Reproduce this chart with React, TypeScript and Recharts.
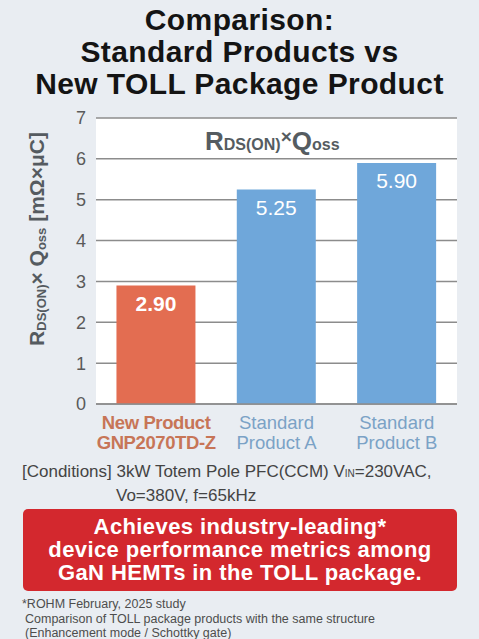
import React from 'react';
import { BarChart, Bar, Cell, XAxis, YAxis, CartesianGrid, LabelList } from 'recharts';

const categories = ['new', 'stdA', 'stdB'];
const labelLines = [
  ['New Product', 'GNP2070TD-Z'],
  ['Standard', 'Product A'],
  ['Standard', 'Product B'],
];
const values = [2.9, 5.25, 5.9];
const yTicks = [0, 1, 2, 3, 4, 5, 6, 7];

const barColors = ['#e36d51', '#6fa7da', '#6fa7da'];
const labelColors = ['#c77557', '#7ba2c6', '#7ba2c6'];
const FONT = '"Liberation Sans", Arial, sans-serif';

const rows = categories.map((c, i) => ({ name: c, value: values[i] }));

const CategoryTick = (props: any) => {
  const { x, y, index } = props;
  const lines = labelLines[index] || [];
  const isNew = index === 0;
  return (
    <text
      x={x}
      y={y}
      textAnchor="middle"
      fill={labelColors[index]}
      fontFamily={isNew ? '"Liberation Sans Narrow", "Liberation Sans", sans-serif' : FONT}
      fontWeight={isNew ? 'bold' : 'normal'}
      fontSize={isNew ? 18.5 : 18.5}
      letterSpacing={isNew ? -0.4 : 0}
    >
      {lines.map((l, i) => (
        <tspan key={l} x={x} dy={i === 0 ? 17 : 20}>
          {l}
        </tspan>
      ))}
    </text>
  );
};

const YLabel = () => {
  const cx = 36;
  const cy = 139;
  return (
    <text
      x={cx}
      y={cy}
      transform={`rotate(-90, ${cx}, ${cy})`}
      textAnchor="middle"
      fontFamily={FONT}
      fontWeight="bold"
      fontSize={21}
      fill="#555b60"
      dominantBaseline="central"
    >
      R
      <tspan fontSize={13} dy={5}>DS(ON)</tspan>
      <tspan dy={-5}>× Q</tspan>
      <tspan fontSize={13} dy={5}>oss</tspan>
      <tspan dy={-5}> [mΩ×μC]</tspan>
    </text>
  );
};

const App = () => {
  return (
    <div
      style={{
        position: 'absolute',
        left: 0,
        top: 0,
        width: 479,
        height: 639,
        background: '#e9edf2',
        fontFamily: FONT,
        overflow: 'hidden',
      }}
    >
      <div
        style={{
          position: 'absolute',
          top: 4,
          left: 0,
          width: 479,
          textAlign: 'center',
          fontWeight: 'bold',
          fontSize: 30,
          letterSpacing: 0.4,
          lineHeight: '32px',
          color: '#141414',
        }}
      >
        Comparison:
        <br />
        Standard Products vs
        <br />
        New TOLL Package Product
      </div>

      <div style={{ position: 'absolute', top: 100, left: 0 }}>
        <BarChart
          width={479}
          height={365}
          data={rows}
          margin={{ top: 18, right: 22, bottom: 0, left: 0 }}
          barCategoryGap="17%"
        >
          <CartesianGrid vertical={false} fill="#ffffff" stroke="#8c8c8c" strokeWidth={1.5} />
          <XAxis
            dataKey="name"
            interval={0}
            height={61}
            tick={<CategoryTick />}
            tickLine={false}
            axisLine={{ stroke: '#8c8c8c', strokeWidth: 1.5 }}
          />
          <YAxis
            width={96}
            domain={[0, 7]}
            ticks={yTicks}
            interval={0}
            axisLine={false}
            tickLine={false}
            tickSize={0}
            tickMargin={10}
            tick={{ fill: '#5a5a5a', fontSize: 18, fontFamily: FONT }}
            label={{ content: <YLabel /> }}
          />
          <Bar dataKey="value" isAnimationActive={false}>
            {rows.map((r, i) => (
              <Cell key={r.name} fill={barColors[i]} />
            ))}
            <LabelList
              dataKey="value"
              position="insideTop"
              content={(p: any) => {
                const { x, y, width, value, index } = p;
                return (
                  <text
                    x={x + width / 2}
                    y={y + 25}
                    textAnchor="middle"
                    fill="#ffffff"
                    fontFamily={FONT}
                    fontWeight={index === 0 ? 'bold' : 'normal'}
                    fontSize={21}
                  >
                    {Number(value).toFixed(2)}
                  </text>
                );
              }}
            />
          </Bar>
        </BarChart>
      </div>

      <div
        style={{
          position: 'absolute',
          left: 205,
          top: 126,
          fontWeight: 'bold',
          fontSize: 26,
          color: '#555c61',
          whiteSpace: 'nowrap',
        }}
      >
        R<span style={{ fontSize: 16 }}>DS(ON)</span>
        <span style={{ fontSize: 19, verticalAlign: 'top' }}>×</span>Q
        <span style={{ fontSize: 16 }}>oss</span>
      </div>

      <div
        style={{
          position: 'absolute',
          left: 22,
          top: 461,
          fontSize: 17,
          lineHeight: '22px',
          color: '#444',
          whiteSpace: 'nowrap',
        }}
      >
        [Conditions] 3kW Totem Pole PFC(CCM) V<span style={{ fontSize: 10 }}>IN</span>=230VAC,
        <br />
        <span style={{ marginLeft: 94 }}>Vo=380V, f=65kHz</span>
      </div>

      <div
        style={{
          position: 'absolute',
          left: 23,
          top: 509,
          width: 434,
          height: 82,
          background: '#d3282e',
          borderRadius: 5,
          color: '#ffffff',
          fontWeight: 'bold',
          fontSize: 22,
          letterSpacing: 0.4,
          lineHeight: '23px',
          textAlign: 'center',
          paddingTop: 6,
          boxSizing: 'border-box',
        }}
      >
        Achieves industry-leading*
        <br />
        device performance metrics among
        <br />
        GaN HEMTs in the TOLL package.
      </div>

      <div
        style={{
          position: 'absolute',
          left: 22,
          top: 597,
          fontSize: 12.5,
          lineHeight: '14.5px',
          color: '#4d4d4d',
          whiteSpace: 'nowrap',
        }}
      >
        *ROHM February, 2025 study
        <br />
        <span style={{ marginLeft: 3 }}>Comparison of TOLL package products with the same structure</span>
        <br />
        <span style={{ marginLeft: 3 }}>(Enhancement mode / Schottky gate)</span>
      </div>
    </div>
  );
};

export default App;
